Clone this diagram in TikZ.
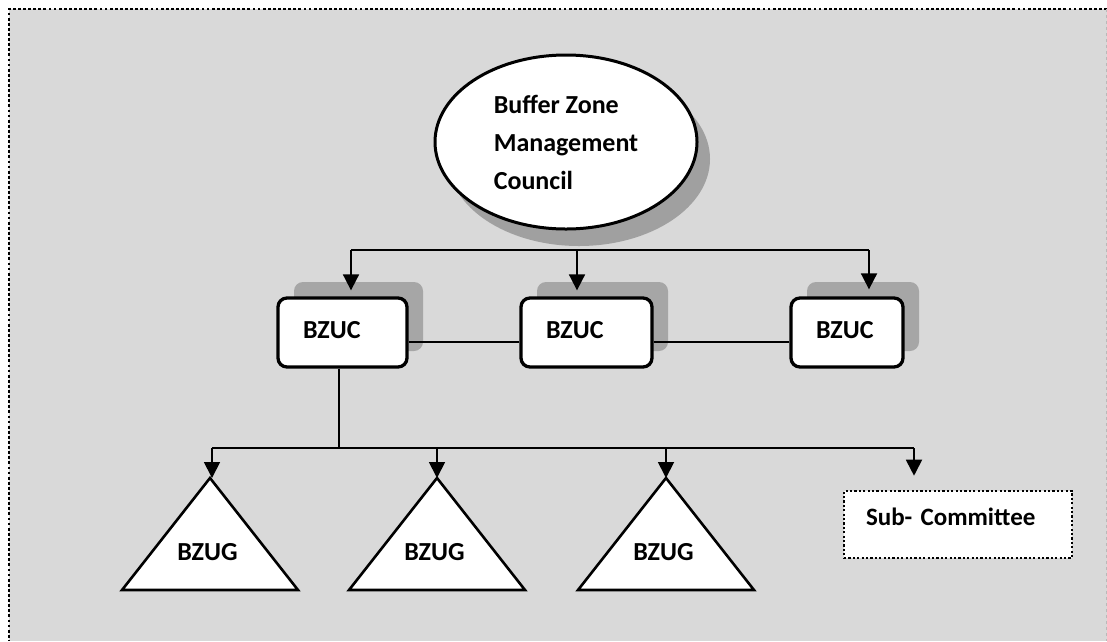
\documentclass[tikz,border=0pt]{standalone}
\usepackage{fontspec}
\setmainfont{Carlito}
\usetikzlibrary{arrows.meta,shadows,shapes.geometric}

\definecolor{pagegray}{RGB}{217,217,217}
\definecolor{shadegray}{RGB}{166,166,166}
\definecolor{ovalshade}{RGB}{160,160,160}

\tikzset{
  lbl/.style={font=\fontsize{26}{38}\selectfont\bfseries, inner sep=0pt},
  council/.style={ellipse, draw, line width=3pt, fill=white,
    minimum width=262pt, minimum height=174pt, align=left, inner sep=0pt,
    font=\fontsize{26}{38}\selectfont\bfseries,
    general shadow={shadow xshift=13pt, shadow yshift=-17pt, fill=ovalshade}},
  bzuc/.style={rectangle, rounded corners=9pt, draw, line width=3.3pt, fill=white,
    inner xsep=25pt, inner ysep=0pt, text height=40pt, text depth=29pt, align=left,
    font=\fontsize{26}{30}\selectfont\bfseries,
    general shadow={shadow xshift=16pt, shadow yshift=16pt, fill=shadegray,
      rounded corners=12pt, draw=none}},
  subbox/.style={rectangle, draw, line width=2.6pt, dash pattern=on 2.2pt off 2.2pt,
    fill=white, inner xsep=22pt, inner ysep=0pt, text width=184pt, align=left,
    text height=34pt, text depth=33pt,
    font=\fontsize{25}{30}\selectfont\bfseries},
  tri/.style={draw, line width=2.6pt, fill=white, line join=miter},
  conn/.style={draw, line width=1.8pt},
  thin link/.style={draw, line width=1.4pt},
  arr/.style={draw, line width=1.8pt, -{Triangle[width=16pt,length=16pt]}},
}

\begin{document}
\begin{tikzpicture}[x=1pt,y=-1pt]
  \useasboundingbox (0,0) rectangle (1107,641);

  % page background and its border
  \fill[pagegray] (9,9) rectangle (1107,641);
  \draw[line width=2.8pt, dash pattern=on 2.8pt off 2.3pt] (1107,9) -- (9,9) -- (9,641);
  \draw[gray!55, line width=1pt, dash pattern=on 3pt off 3pt] (1106,9) -- (1106,641);

  % council
  \node[council] (bzmc) at (566,142) {Buffer Zone\\Management\\Council};

  % user committees
  \node[bzuc, text width=79pt]   (c1) at (342.5,332.5) {BZUC};
  \node[bzuc, text width=81pt]   (c2) at (586.5,332.5) {BZUC};
  \node[bzuc, text width=62pt]   (c3) at (847,332.5)   {BZUC};

  % distribution bar from the council
  \coordinate (j1) at (351,250);
  \coordinate (j2) at (577,250);
  \coordinate (j3) at (869,250);
  \draw[conn] (j1) -- (j3);
  \draw[arr, shorten >=6pt] (j1) -- (j1 |- c1.north);
  \draw[arr, shorten >=6pt] (j2) -- (j2 |- c2.north);
  \draw[arr, shorten >=7pt] (j3) -- (j3 |- c3.north);

  % links between committees
  \draw[thin link] ([yshift=-9.5pt]c1.east) -- ([yshift=-9.5pt]c1.east -| c2.west);
  \draw[thin link] ([yshift=-9.5pt]c2.east) -- ([yshift=-9.5pt]c2.east -| c3.west);

  % user groups
  \coordinate (g1) at (210,478);
  \coordinate (g2) at (437,478);
  \coordinate (g3) at (666,478);
  \draw[tri] (g1) -- ++(88,112) -- ++(-176,0) -- cycle;
  \draw[tri] (g2) -- ++(88,112) -- ++(-176,0) -- cycle;
  \draw[tri] (g3) -- ++(88,112) -- ++(-176,0) -- cycle;
  \node[lbl] (u1) at (207.5,552) {BZUG};
  \node[lbl] (u2) at (434.5,552) {BZUG};
  \node[lbl] (u3) at (663.5,552) {BZUG};

  % sub-committee
  \node[subbox] (sc) at (958,524.5) {Sub- Committee};

  % distribution bar below the first committee
  \coordinate (k0) at (339,448);
  \coordinate (k1) at (212,448);
  \coordinate (k4) at (914,448);
  \draw[thin link] (c1.south -| k0) -- (k0);
  \draw[conn] (k1) -- (k4);
  \draw[arr] (k1) -- (k1 |- g1);
  \draw[arr] (k1 -| g2) -- (g2);
  \draw[arr] (k1 -| g3) -- (g3);
  \draw[arr, shorten >=14pt] (k4) -- (k4 |- sc.north);
\end{tikzpicture}
\end{document}
